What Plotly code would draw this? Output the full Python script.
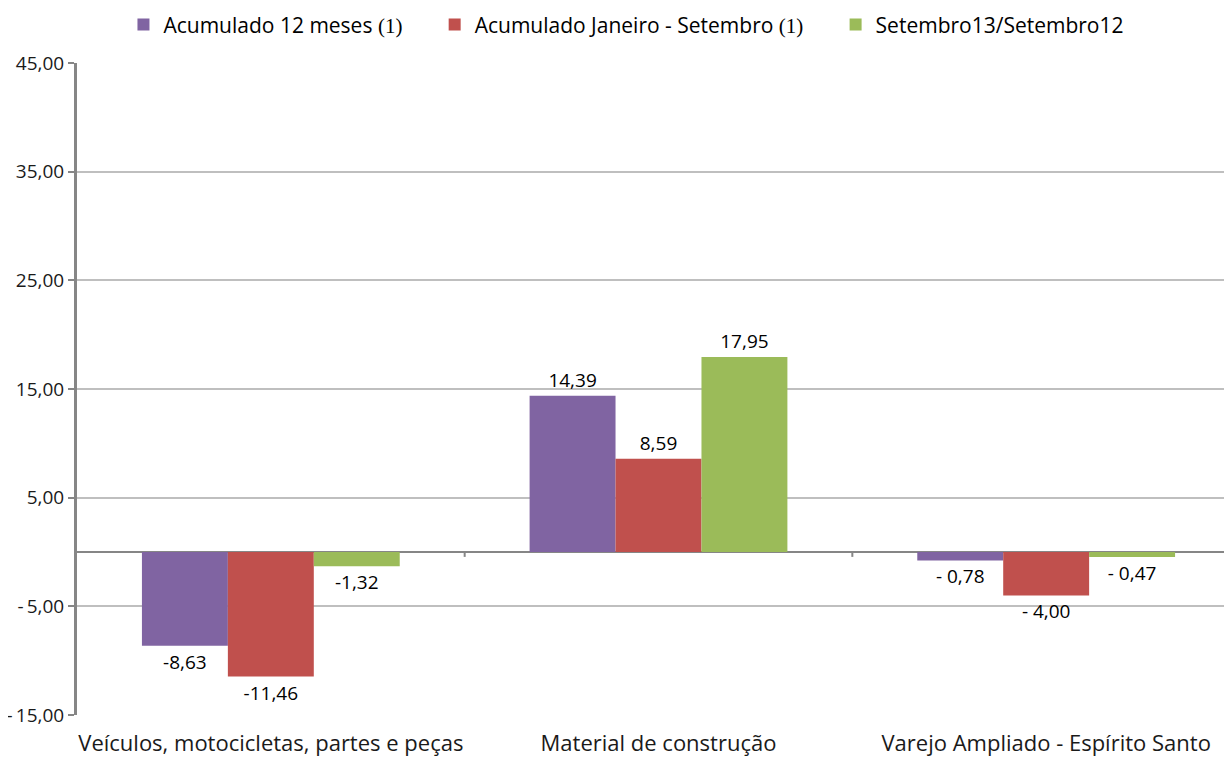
import plotly.graph_objects as go

categories = ["Veículos, motocicletas, partes e peças", "Material de construção", "Varejo Ampliado - Espírito Santo"]
series_names = ["Acumulado 12 meses (1)", "Acumulado Janeiro - Setembro (1)", "Setembro13/Setembro12"]
acum12 = [-8.63, 14.39, -0.78]
acum_jan_set = [-11.46, 8.59, -4.00]
set13_set12 = [-1.32, 17.95, -0.47]
value_labels = [
    ["-8,63", "14,39", "- 0,78"],
    ["-11,46", "8,59", "- 4,00"],
    ["-1,32", "17,95", "- 0,47"],
]
colors = ["#8064A2", "#C0504D", "#9BBB59"]
tick_vals = [45, 35, 25, 15, 5, -5, -15]
tick_text = ["45,00", "35,00", "25,00", "15,00", "5,00", "-\u20095,00", "-\u200915,00"]


def legend_label(name, pad):
    # render the "(1)" footnote marker in a serif face, as in the original
    if name.endswith("(1)"):
        name = name[:-3] + "<span style='font-family:Liberation Serif'>(1)</span>"
    return name + "\u00a0" * pad


pads = [5, 5, 0]

fig = go.Figure()
for name, vals, labs, col, pad in zip(series_names, [acum12, acum_jan_set, set13_set12], value_labels, colors, pads):
    fig.add_trace(go.Bar(
        x=categories, y=vals, name=legend_label(name, pad),
        marker=dict(color=col, line=dict(width=0)),
        text=labs, textposition="outside", cliponaxis=False,
        textfont=dict(family="Open Sans", size=19, color="#000000"),
    ))

# small category separator ticks on the zero line
for i in range(len(categories) - 1):
    fig.add_shape(type="line", xref="x", yref="y", x0=i + 0.5, x1=i + 0.5, y0=0, y1=-0.45,
                  line=dict(color="#868686", width=2))

fig.update_layout(
    width=1232, height=760,
    margin=dict(l=69, r=0, t=55, b=53, autoexpand=False),
    paper_bgcolor="white", plot_bgcolor="white",
    barmode="group", bargap=0.335, bargroupgap=0,
    font=dict(family="Open Sans", color="#000000"),
    legend=dict(orientation="h", x=0.502, xanchor="center", xref="container",
                y=1.09, yanchor="top", yref="paper",
                font=dict(family="Open Sans", size=21, color="#000000"), traceorder="normal",
                itemwidth=30),
    showlegend=True,
)
fig.update_xaxes(showgrid=False, showline=False, ticks="", automargin=False,
                 ticklabelstandoff=13,
                 tickfont=dict(family="Open Sans", size=22, color="#1a1a1a"))
fig.update_yaxes(range=[-15, 45], tickvals=tick_vals, ticktext=tick_text, automargin=False,
                 showgrid=True, gridcolor="#BFBFBF", gridwidth=1.5,
                 zeroline=True, zerolinecolor="#868686", zerolinewidth=2,
                 showline=True, linecolor="#868686", linewidth=3,
                 ticks="outside", ticklen=6, tickcolor="#868686", tickwidth=2,
                 tickfont=dict(family="Open Sans", size=19, color="#1a1a1a"))

fig.write_html("out.html")
